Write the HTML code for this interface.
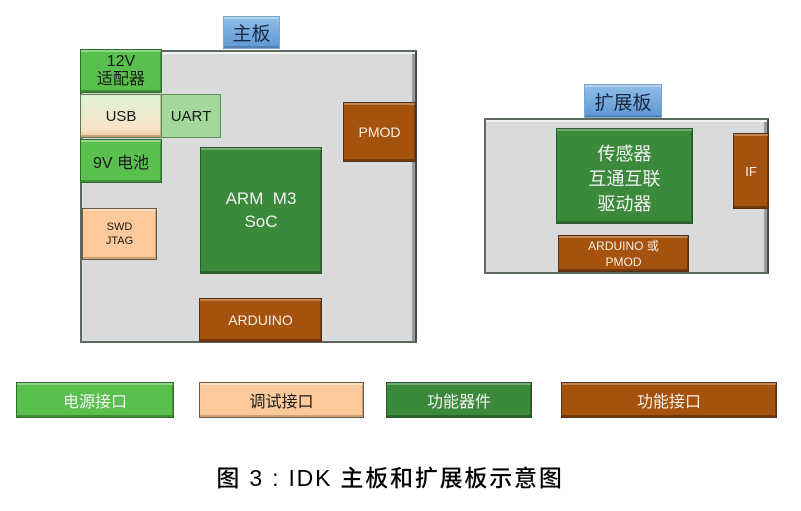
<!DOCTYPE html>
<html><head><meta charset="utf-8">
<style>
html,body{margin:0;padding:0;background:#fff;}
body{width:801px;height:511px;position:relative;overflow:hidden;font-family:"Liberation Sans","Noto Sans CJK SC",sans-serif;}
.b{position:absolute;box-sizing:border-box;display:flex;align-items:center;justify-content:center;text-align:center;}
.board{background:#d9dadc;border:2px solid #5d6a5d;border-right-color:#4a4a4a;box-shadow:inset 0 2px 0 #f2f2f2, inset -3px 0 0 #9a9a9a;}
.tab{background:linear-gradient(#8fbde8,#5e98d4);border:1px solid #7aa6cc;box-shadow:inset 0 2px 0 rgba(255,255,255,.35), inset 0 -2px 0 rgba(0,0,0,.15);color:#1c2840;font-size:19px;}
.g{background:#59bf4d;border:1px solid #2f6b2a;box-shadow:inset 0 2px 0 rgba(255,255,255,.35), inset -1px -2px 0 rgba(0,0,0,.25);color:#1a1a1a;}
.dg{background:#3b893b;border:1px solid #2a5a2a;box-shadow:inset 0 2px 0 rgba(255,255,255,.3), inset -1px -2px 0 rgba(0,0,0,.25);color:#f2f2f2;}
.br{background:#a5520f;border:1px solid #5a3010;box-shadow:inset 0 2px 0 rgba(255,255,255,.3), inset -1px -2px 0 rgba(0,0,0,.3);color:#f8f0e8;}
.pe{background:#fcc99b;border:1px solid #6b5a40;box-shadow:inset 0 2px 0 rgba(255,255,255,.4), inset -1px -2px 0 rgba(0,0,0,.2);color:#1a1a1a;}
</style></head><body>

<!-- main board -->
<div class="b board" style="left:80px;top:50px;width:337px;height:293px;"></div>
<div class="b tab" style="left:223px;top:16px;width:57px;height:33px;">主板</div>

<div class="b g" style="left:80px;top:49px;width:82px;height:44px;font-size:16px;line-height:18px;flex-direction:column;">12V<br>适配器</div>
<div class="b" style="left:80px;top:94px;width:82px;height:44px;background:linear-gradient(#dff3d6,#f8e3c8 80%,#f3cba0);border:1px solid #5a7a50;box-shadow:inset -1px -2px 0 rgba(0,0,0,.2);font-size:15px;color:#1a1a1a;">USB</div>
<div class="b" style="left:161px;top:94px;width:60px;height:44px;background:#a3d99a;border:1px solid #5e8f57;font-size:15px;color:#1a1a1a;">UART</div>
<div class="b g" style="left:80px;top:139px;width:82px;height:44px;font-size:16px;">9V 电池</div>
<div class="b pe" style="left:82px;top:208px;width:75px;height:52px;font-size:11px;line-height:14px;">SWD<br>JTAG</div>
<div class="b dg" style="left:200px;top:147px;width:122px;height:127px;font-size:17px;line-height:23px;padding-bottom:2px;">ARM&nbsp; M3<br>SoC</div>
<div class="b br" style="left:199px;top:298px;width:123px;height:44px;font-size:14px;">ARDUINO</div>
<div class="b br" style="left:343px;top:102px;width:73px;height:60px;font-size:14px;">PMOD</div>

<!-- expansion board -->
<div class="b board" style="left:484px;top:118px;width:285px;height:156px;"></div>
<div class="b tab" style="left:584px;top:84px;width:78px;height:34px;">扩展板</div>
<div class="b dg" style="left:556px;top:128px;width:137px;height:96px;font-size:18px;line-height:25px;padding-top:6px;">传感器<br>互通互联<br>驱动器</div>
<div class="b br" style="left:733px;top:133px;width:36px;height:76px;font-size:13px;">IF</div>
<div class="b br" style="left:558px;top:235px;width:131px;height:37px;font-size:12px;line-height:16px;">ARDUINO 或<br>PMOD</div>

<!-- legend -->
<div class="b g" style="left:16px;top:382px;width:158px;height:36px;font-size:16px;color:#f4f4f4;">电源接口</div>
<div class="b pe" style="left:199px;top:382px;width:165px;height:36px;font-size:16px;">调试接口</div>
<div class="b dg" style="left:386px;top:382px;width:146px;height:36px;font-size:16px;">功能器件</div>
<div class="b br" style="left:561px;top:382px;width:216px;height:36px;font-size:16px;">功能接口</div>

<!-- caption -->
<div class="b" style="left:150px;top:460px;width:480px;height:32px;font-size:23px;color:#000;letter-spacing:1.8px;font-weight:500;">图 3 : IDK 主板和扩展板示意图</div>

</body></html>
